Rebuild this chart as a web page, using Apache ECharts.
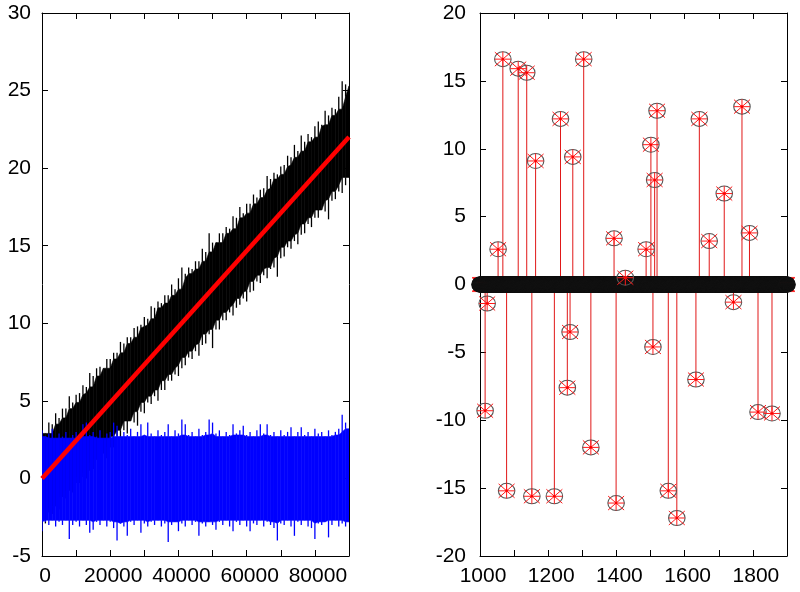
<!DOCTYPE html>
<html><head><meta charset="utf-8">
<script src="https://cdn.jsdelivr.net/npm/echarts@6/dist/echarts.min.js"></script>
<style>html,body{margin:0;padding:0;background:#fff}#c{width:800px;height:592px}</style>
</head><body><div id="c"></div>
<script>
// ---------- Left panel: noisy signals, envelopes read per 1000 samples ----------
const noiseStep = 1000;
const blackHi = [3.0,2.9,3.6,3.5,4.2,3.9,4.5,4.5,5.3,4.9,5.4,5.5,6.0,5.9,6.8,6.6,7.1,7.2,7.1,7.7,7.7,8.1,8.1,8.8,8.7,9.1,9.1,9.7,9.8,9.9,
  10.4,10.3,11.1,11.0,11.4,11.3,11.8,11.8,12.5,12.2,12.9,13.6,13.2,13.6,13.5,14.0,14.0,14.8,14.6,15.8,15.2,15.2,15.8,15.8,16.2,16.1,16.9,16.8,17.5,17.1,
  17.7,17.7,18.3,18.1,18.6,18.7,19.5,19.3,19.7,19.6,20.1,20.2,20.8,20.7,21.5,21.1,22.1,21.7,22.2,22.0,22.7,23.0,22.8,23.7,23.4,23.9,23.8,24.6,25.6,25.4,25.3];
const blackLo = [-2.9,-2.9,-2.2,-2.3,-1.8,-2.0,-1.2,-1.3,-0.8,-0.9,-0.3,-0.3,0.1,0.0,0.5,0.6,1.2,1.2,1.6,1.3,2.0,2.0,2.7,2.6,3.1,2.9,3.7,3.6,3.4,4.3,
  4.2,4.9,4.8,5.3,5.0,5.7,5.7,6.3,6.3,6.7,6.6,7.1,7.3,7.8,7.7,8.2,7.9,8.6,8.7,9.3,8.4,9.6,9.6,10.2,10.2,10.7,10.5,11.0,11.2,11.6,
  11.4,12.0,12.1,12.7,12.6,13.1,12.9,13.5,13.6,13.0,14.2,14.3,14.9,14.8,15.3,15.1,15.7,15.8,16.4,16.2,16.8,16.8,17.3,17.2,16.7,17.9,18.0,18.5,18.4,18.9,19.4];
const blueHi = [3.1,2.7,2.9,3.2,2.6,2.9,2.7,3.0,2.6,2.8,3.0,2.7,3.5,3.6,2.8,3.0,2.7,3.1,2.6,2.9,3.0,3.6,3.4,2.7,3.0,2.8,3.2,2.7,3.0,3.5,
  2.8,3.6,2.9,2.7,3.1,2.8,3.0,3.5,2.7,3.1,2.9,3.8,3.5,2.8,3.0,2.7,3.2,2.8,3.0,3.8,3.6,2.9,3.1,2.7,3.0,2.8,3.5,2.9,3.1,3.4,
  2.8,3.0,2.7,3.1,3.5,2.9,3.5,2.8,3.0,2.7,3.1,2.8,3.0,3.3,2.7,3.0,3.3,2.8,3.0,2.7,3.2,2.9,3.0,2.7,3.1,2.8,3.0,3.2,4.1,3.6,3.2];
const blueLo = [-3.4,-2.8,-3.0,-2.7,-3.1,-2.8,-3.0,-2.7,-3.9,-3.0,-2.8,-3.1,-2.7,-3.0,-3.5,-3.3,-2.8,-3.0,-2.7,-3.1,-2.8,-3.2,-4.0,-2.9,-3.1,-3.7,-2.8,-3.0,-2.7,-3.5,
  -2.9,-3.1,-2.8,-3.0,-2.7,-3.1,-2.9,-4.1,-3.0,-2.8,-3.4,-2.9,-3.1,-2.7,-3.0,-2.8,-3.7,-2.9,-3.1,-2.8,-3.0,-3.3,-2.8,-3.0,-2.7,-3.1,-3.4,-2.8,-3.0,-2.7,
  -3.1,-3.4,-2.9,-3.0,-2.7,-3.1,-2.8,-3.0,-3.2,-4.0,-2.9,-3.0,-2.7,-3.1,-3.7,-2.8,-3.0,-2.7,-3.1,-3.2,-3.9,-2.9,-3.0,-2.8,-3.8,-3.0,-2.7,-3.1,-2.9,-3.1,-2.8];
const trendX = [0, 90000];
const trendY = [0, 22];

// ---------- Right panel: sparse spikes (stem plot) ----------
const stemX = [1015,1021,1053,1067,1078,1112,1137,1152,1163,1218,1236,1256,1264,1272,1304,1325,1393,1399,1426,1487,1501,1507,1512,1519,1552,1577,1633,1643,1672,1716,1743,1768,1790,1815,1856];
const stemY = [-9.3,-1.4,2.6,16.6,-15.2,15.9,15.6,-15.6,9.1,-15.6,12.2,-7.6,-3.5,9.4,16.6,-12.0,3.4,-16.1,0.5,2.6,10.3,-4.6,7.7,12.8,-15.2,-17.2,-7.0,12.2,3.2,6.7,-1.3,13.1,3.8,-9.4,-9.5];
const baselineFrom = 1000, baselineTo = 1900; // all other samples are exactly 0

const leftXLabels = [0, 20000, 40000, 60000, 80000];
const rightXLabels = [1000, 1200, 1400, 1600, 1800];

// ---------- build ----------
// solid core = local (5-bin) inner envelope of the extremes; extremes drawn as needles on top of it
function coreOf(arr, useMin) {
  return arr.map((v, i) => {
    const w = arr.slice(Math.max(0, i - 2), i + 3);
    return useMin ? Math.min.apply(null, w) : Math.max.apply(null, w);
  });
}
function bandData(hi, lo) {
  const cHi = coreOf(hi, true), cLo = coreOf(lo, false);
  const d = [];
  for (let i = 0; i < hi.length - 1; i++) {
    d.push([i * noiseStep, lo[i], hi[i], (i + 1) * noiseStep, lo[i + 1], hi[i + 1],
      cLo[i], cHi[i], cLo[i + 1], cHi[i + 1], i === hi.length - 2 ? 1 : 0]);
  }
  return d;
}
function bandRender(color) {
  return function (params, api) {
    const x0 = api.value(0), x1 = api.value(3);
    const a = api.coord([x0, api.value(7)]);
    const b = api.coord([x1, api.value(9)]);
    const c = api.coord([x1, api.value(8)]);
    const d = api.coord([x0, api.value(6)]);
    const kids = [{ type: 'polygon', shape: { points: [a, b, c, d] },
      style: { fill: color, stroke: color, lineWidth: 0.6 } }];
    const needle = (x, v1, v2) => {
      const p = api.coord([x, v1]), q = api.coord([x, v2]);
      kids.push({ type: 'line', shape: { x1: p[0], y1: p[1], x2: q[0], y2: q[1] },
        style: { stroke: color, lineWidth: 1.3 } });
    };
    needle(x0, api.value(7), api.value(2));
    needle(x0, api.value(6), api.value(1));
    if (api.value(10) === 1) {
      needle(x1, api.value(9), api.value(5));
      needle(x1, api.value(8), api.value(4));
    }
    return { type: 'group', children: kids };
  };
}
const stemData = stemX.map((x, i) => [x, stemY[i]]);
const zeroData = [];
for (let x = baselineFrom; x <= baselineTo; x++) {
  if (stemX.indexOf(x) < 0) zeroData.push([x, 0]);
}
function starRender(params, api) {
  const p = api.coord([api.value(0), api.value(1)]);
  const cx = p[0], cy = p[1];
  const rs = () => ({ stroke: '#ff1a1a', lineWidth: 1 });
  return { type: 'group', children: [
    { type: 'line', shape: { x1: cx - 8, y1: cy, x2: cx + 8, y2: cy }, style: rs() },
    { type: 'line', shape: { x1: cx, y1: cy - 7.5, x2: cx, y2: cy + 7.5 }, style: rs() },
    { type: 'line', shape: { x1: cx - 8, y1: cy - 7, x2: cx + 8, y2: cy + 7 }, style: rs() },
    { type: 'line', shape: { x1: cx - 8, y1: cy + 7, x2: cx + 8, y2: cy - 7 }, style: rs() },
    { type: 'circle', shape: { cx: cx, cy: cy, r: 1.3 }, style: { fill: '#ff0000' } }
  ]};
}
function circleRender(color) {
  return function (params, api) {
    const p = api.coord([api.value(0), api.value(1)]);
    return { type: 'circle', shape: { cx: 0, cy: 0, r: 7.5 }, x: p[0], y: p[1], scaleX: 1.1,
      style: { fill: 'none', stroke: color, lineWidth: 1, strokeNoScale: true } };
  };
}
function stemRender(params, api) {
  const a = api.coord([api.value(0), 0]);
  const b = api.coord([api.value(0), api.value(1)]);
  return { type: 'line', shape: { x1: a[0], y1: a[1], x2: b[0], y2: b[1] },
    style: { stroke: '#e01818', lineWidth: 1 } };
}

const font = { color: '#000', fontSize: 21, fontFamily: 'Liberation Sans, Arial, sans-serif' };
function xAx(grid, min, max, interval, labels, pos) {
  return { type: 'value', gridIndex: grid, min: min, max: max, interval: interval, position: pos,
    axisLine: { show: true, onZero: false, lineStyle: { color: '#000', width: 1 } },
    axisTick: { show: true, inside: true, length: 6, lineStyle: { color: '#000' } },
    splitLine: { show: false },
    axisLabel: pos === 'bottom' ? Object.assign({ show: true, margin: 10, padding: [0, 0, 0, 6],
      formatter: v => labels.indexOf(v) >= 0 ? String(v) : '' }, font) : { show: false } };
}
function yAx(grid, min, max, interval, pos, margin) {
  return { type: 'value', gridIndex: grid, min: min, max: max, interval: interval, position: pos,
    axisLine: { show: true, onZero: false, lineStyle: { color: '#000', width: 1 } },
    axisTick: { show: true, inside: true, length: 6, lineStyle: { color: '#000' } },
    splitLine: { show: false },
    axisLabel: pos === 'left' ? Object.assign({ show: true, margin: margin }, font) : { show: false } };
}

const chart = echarts.init(document.getElementById('c'), null, { renderer: 'canvas' });
const rs = (data, render) => ({ type: 'custom', xAxisIndex: 2, yAxisIndex: 2, clip: false, data: data,
  encode: { x: 0, y: 1 }, renderItem: render });
const bandEncode = { x: [0, 3], y: [1, 2, 4, 5] };
chart.setOption({
  animation: false,
  backgroundColor: '#fff',
  grid: [
    { left: 42, top: 13, width: 307, height: 543 },
    { left: 480, top: 13, width: 307, height: 543 }
  ],
  xAxis: [
    xAx(0, 0, 90000, 10000, leftXLabels, 'bottom'),
    xAx(0, 0, 90000, 10000, leftXLabels, 'top'),
    xAx(1, 1000, 1900, 100, rightXLabels, 'bottom'),
    xAx(1, 1000, 1900, 100, rightXLabels, 'top')
  ],
  yAxis: [
    yAx(0, -5, 30, 5, 'left', 11),
    yAx(0, -5, 30, 5, 'right'),
    yAx(1, -20, 20, 5, 'left', 14),
    yAx(1, -20, 20, 5, 'right')
  ],
  series: [
    { type: 'custom', xAxisIndex: 0, yAxisIndex: 0, clip: true, data: bandData(blackHi, blackLo),
      encode: bandEncode, renderItem: bandRender('#000') },
    { type: 'custom', xAxisIndex: 0, yAxisIndex: 0, clip: true, data: bandData(blueHi, blueLo),
      encode: bandEncode, renderItem: bandRender('#0000ff') },
    { type: 'line', xAxisIndex: 0, yAxisIndex: 0, symbol: 'none',
      data: trendX.map((x, i) => [x, trendY[i]]),
      lineStyle: { color: '#ff0000', width: 4.5 } },
    rs(stemData, stemRender),
    rs(zeroData, starRender),
    rs(zeroData, circleRender('#111')),
    rs(stemData, circleRender('#555')),
    rs(stemData, starRender)
  ]
});
</script></body></html>
